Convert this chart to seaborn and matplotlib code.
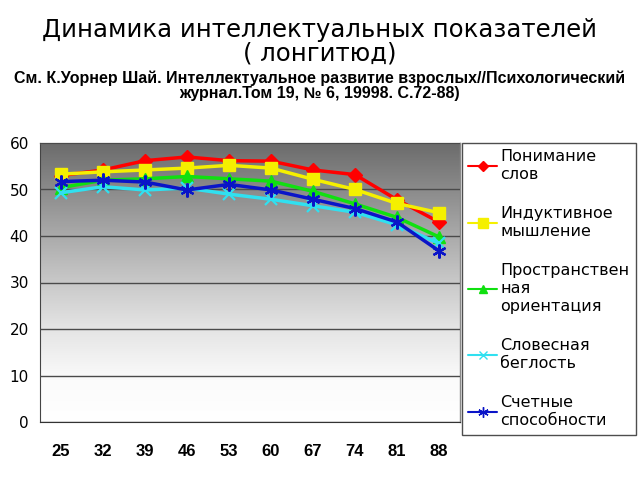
import numpy as np
import pandas as pd
import matplotlib
matplotlib.use("Agg")
import matplotlib.pyplot as plt
from matplotlib.colors import LinearSegmentedColormap
from matplotlib.lines import Line2D
import seaborn as sns

ages = ["25", "32", "39", "46", "53", "60", "67", "74", "81", "88"]
series_names = ["Понимание\nслов", "Индуктивное\nмышление", "Пространствен\nная\nориентация",
                "Словесная\nбеглость", "Счетные\nспособности"]
verbal_meaning = [53.0, 54.2, 56.2, 57.0, 56.2, 56.1, 54.2, 53.2, 47.8, 43.0]
inductive_reasoning = [53.3, 53.8, 54.2, 54.6, 55.2, 54.6, 52.2, 50.0, 47.0, 45.0]
spatial_orientation = [50.4, 52.0, 52.3, 52.8, 52.3, 51.8, 49.6, 46.9, 44.0, 39.8]
verbal_fluency = [49.3, 50.6, 49.9, 50.3, 49.0, 47.9, 46.5, 45.1, 42.4, 38.4]
numeric_ability = [51.7, 52.0, 51.6, 49.9, 51.1, 49.9, 47.9, 45.9, 43.0, 36.8]
values = [verbal_meaning, inductive_reasoning, spatial_orientation, verbal_fluency, numeric_ability]

colors = ["#FF0000", "#F5F000", "#10E010", "#30E0F0", "#0A14C8"]
markers = ["D", "s", "^", "x", (6, 2, 0)]
msizes = [7, 9, 8, 8, 10]

rows = []
for name, vals in zip(series_names, values):
    for i, v in enumerate(vals):
        rows.append({"pos": i, "age": ages[i], "value": v, "series": name})
df = pd.DataFrame(rows)

sns.set_style("white")
plt.rcParams['font.family'] = ['DejaVu Sans']
plt.rcParams['text.color'] = 'black'
plt.rcParams['xtick.color'] = 'black'
plt.rcParams['ytick.color'] = 'black'

fig = plt.figure(figsize=(6.4, 4.8), dpi=100)
fig.patch.set_facecolor("white")
ax = fig.add_axes([40 / 640, 58 / 480, 420 / 640, 279 / 480])

# gradient background
cmap = LinearSegmentedColormap.from_list(
    "g", [(0.0, "#ffffff"), (0.15, "#fbfbfb"), (0.35, "#e2e2e2"), (0.55, "#c0c0c0"), (1.0, "#6c6c6c")])
grad = np.linspace(0, 1, 256).reshape(-1, 1)
ax.imshow(grad, aspect="auto", cmap=cmap, extent=(-0.5, 9.5, 0, 60), origin="lower", zorder=0)

for name, c, m, ms in zip(series_names, colors, markers, msizes):
    sub = df[df["series"] == name]
    sns.lineplot(data=sub, x="pos", y="value", ax=ax, color=c, marker=m, markersize=ms,
                 markeredgecolor=c, markeredgewidth=1.6 if m in ("x", (6, 2, 0)) else 1,
                 linewidth=2.5, legend=False, zorder=3, errorbar=None)

ax.set_xlim(-0.5, 9.5)
ax.set_ylim(0, 60)
ax.set_yticks(range(0, 61, 10))
ax.set_yticklabels([str(v) for v in range(0, 61, 10)], fontsize=11)
ax.set_xticks(range(len(ages)))
ax.set_xticklabels(ages, fontsize=12, fontweight="bold", family="Liberation Sans")
ax.set_xticks(np.arange(-0.5, 10, 1), minor=True)
ax.tick_params(axis="x", which="major", length=0, pad=16)
ax.tick_params(axis="x", which="minor", length=5, width=1, color="#333333", direction="out")
ax.tick_params(axis="y", which="major", length=5, width=1, color="#333333", direction="out", pad=3)
ax.yaxis.grid(True, color="#4a4a4a", linewidth=1, zorder=1)
ax.set_axisbelow(False)
for l in ax.get_ygridlines():
    l.set_zorder(1)
ax.set_xlabel("")
ax.set_ylabel("")
for s in ["top", "right"]:
    ax.spines[s].set_color("#8a8a8a")
    ax.spines[s].set_linewidth(1)
ax.spines["left"].set_color("#444444")
ax.spines["bottom"].set_color("#333333")

handles = [Line2D([0], [0], color=c, marker=m, markersize=ms * 0.75, markeredgecolor=c, linewidth=1.5)
           for c, m, ms in zip(colors, markers, msizes)]
leg = fig.legend(handles, series_names, loc="upper left",
                 bbox_to_anchor=(462 / 640, 337 / 480), borderaxespad=0, frameon=True,
                 fancybox=False, edgecolor="#222222", fontsize=11.5, handlelength=1.8,
                 handletextpad=0.2, labelspacing=1.5, borderpad=0.4)
leg.get_frame().set_linewidth(1.0)
for t in leg.get_texts():
    t.set_linespacing(1.25)

fig.text(0.5, 1 - 30 / 480, "Динамика интеллектуальных показателей", ha="center", va="center",
         fontsize=17.6)
fig.text(0.5, 1 - 54 / 480, "( лонгитюд)", ha="center", va="center", fontsize=17.6)
fig.text(0.5, 1 - 86 / 480,
         "См. К.Уорнер Шай. Интеллектуальное развитие взрослых//Психологический\nжурнал.Том 19, № 6, 19998. С.72-88)",
         ha="center", va="center", fontsize=11.5, fontweight="bold", family="Liberation Sans",
         linespacing=1.0)

fig.savefig("out.png", dpi=100)
